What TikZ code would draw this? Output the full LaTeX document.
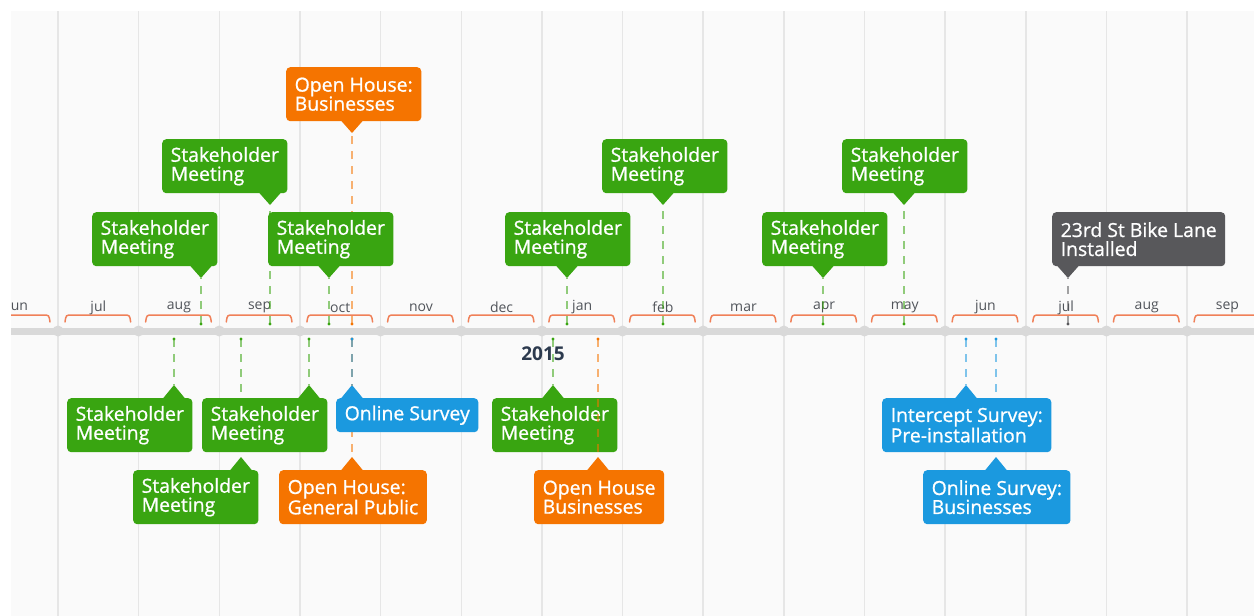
\documentclass[tikz,border=0pt]{standalone}
\usepackage{fontspec}
\setmainfont{Open Sans}
\newfontfamily\boxfont{Open Sans}[FakeBold=0.9]
\definecolor{cgreen}{RGB}{57,165,17}
\definecolor{corange}{RGB}{245,116,0}
\definecolor{cblue}{RGB}{27,153,223}
\definecolor{cgrey}{RGB}{88,88,91}
\definecolor{panel}{RGB}{250,250,250}
\definecolor{gridc}{RGB}{230,230,230}
\definecolor{axisc}{RGB}{217,217,217}
\definecolor{bracketc}{RGB}{240,128,88}
\definecolor{monthc}{RGB}{80,84,90}
\definecolor{yearc}{RGB}{44,58,78}
\tikzset{
  evbox/.style={rounded corners=4pt, text=white, inner xsep=8.5pt, inner ysep=0pt,
    align=left, font=\boxfont\fontsize{19.4}{19}\selectfont},
  evdash/.style={line width=2.8pt, dash pattern=on 8pt off 7pt, opacity=0.55},
  gridline/.style={draw=gridc, line width=1.5pt},
  axisline/.style={draw=axisc, line width=7pt},
  bracketline/.style={draw=bracketc, line width=1.5pt, line cap=round},
  monthlbl/.style={text=monthc, font=\fontsize{14}{14}\selectfont, inner sep=0pt},
  yearlbl/.style={text=yearc, font=\bfseries\fontsize{19}{19}\selectfont, inner sep=0pt}
}
% #1 name, #2 colour, #3 x, #4 tip y, #5 axis y
\newcommand\evline[5]{%
  \coordinate (#1-tip) at (#3,#4);
  \coordinate (#1-ax) at (#3,#5);
  \draw[evdash,draw=#2] (#1-ax) -- (#1-tip);
  \fill[#2] (#1-ax) circle (1.6);
}
% pointer down: #1 name, #2 colour, #3 left, #4 top, #5 tip x, #6 text
\newcommand\evdown[6]{%
  \node[evbox,fill=#2,anchor=north west,minimum height=54pt] (#1) at (#3,#4) {#6};
  \fill[#2] ({#5-11.5},{#4+53}) -- (#1-tip) -- ({#5+11.5},{#4+53}) -- cycle;
}
% pointer up: #1 name, #2 colour, #3 left, #4 top, #5 tip x, #6 height, #7 text
\newcommand\evup[7]{%
  \node[evbox,fill=#2,anchor=north west,minimum height=#6pt] (#1) at (#3,#4) {#7};
  \fill[#2] ({#5-11.5},{#4+1}) -- (#1-tip) -- ({#5+11.5},{#4+1}) -- cycle;
}
\begin{document}
\begin{tikzpicture}[x=1pt,y=-1pt]
\useasboundingbox (0,0) rectangle (1254,616);
\fill[white] (0,0) rectangle (1254,616);
\fill[panel] (11,11) rectangle (1254,616);
\begin{scope}
\clip (11,11) rectangle (1254,616);
% grid
\foreach \k in {0,...,14} {
  \draw[gridline] ({58+80.65*\k},11) -- ({58+80.65*\k},616);
}
% brackets and month labels
\foreach \m [count=\i from -1] in {jun,jul,aug,sep,oct,nov,dec,jan,feb,mar,apr,may,jun,jul,aug,sep} {
  \pgfmathsetmacro\a{58+80.65*\i}
  \pgfmathsetmacro\b{\a+80.65}
  \draw[bracketline] ({\a+7},322) .. controls ({\a+8},315) .. ({\a+14},315) -- ({\b-15},315) .. controls ({\b-9},315) .. ({\b-8},322);
  \node[monthlbl] (m\i) at ({\a+40.3},307.5) {\m};
}
% axis
\draw[axisline] (11,331) -- (1254,331);
\foreach \k in {0,...,14} {
  \fill[axisc] ({58+80.65*\k},331) circle (5.5);
}
\node[yearlbl] (yr) at (543,354) {2015};
% connectors (top)
\evline{e1}{corange}{352}{133}{324}
\evline{e2}{cgreen}{270}{205}{324}
\evline{e3}{cgreen}{201}{278}{324}
\evline{e4}{cgreen}{329}{278}{324}
\evline{e14}{cgreen}{567}{278}{324}
\evline{e15}{cgreen}{663}{205}{324}
\evline{e16}{cgreen}{823}{278}{324}
\evline{e17}{cgreen}{904}{205}{324}
\evline{e18}{cgrey}{1068}{278}{324}
% connectors (bottom)
\evline{e5}{cgreen}{174}{385}{339}
\evline{e6}{cgreen}{309}{385}{339}
\evline{e8}{cgreen}{241}{457}{339}
\evline{e9}{corange}{352}{457}{339}
\evline{e7}{cblue}{352}{385}{339}
\evline{e10}{cgreen}{553}{385}{339}
\evline{e12}{cblue}{966}{385}{339}
\evline{e13}{cblue}{996}{457}{339}
\coordinate (e11-tip) at (598,457);
\coordinate (e11-ax) at (598,339);
% boxes (top)
\evdown{e1}{corange}{286}{67}{352}{Open House:\\Businesses}
\evdown{e2}{cgreen}{162}{139}{270}{Stakeholder\\Meeting}
\evdown{e3}{cgreen}{92}{212}{201}{Stakeholder\\Meeting}
\evdown{e4}{cgreen}{268}{212}{329}{Stakeholder\\Meeting}
\evdown{e14}{cgreen}{505}{212}{567}{Stakeholder\\Meeting}
\evdown{e15}{cgreen}{602}{139}{663}{Stakeholder\\Meeting}
\evdown{e16}{cgreen}{762}{212}{823}{Stakeholder\\Meeting}
\evdown{e17}{cgreen}{842}{139}{904}{Stakeholder\\Meeting}
\evdown{e18}{cgrey}{1052}{212}{1068}{23rd St Bike Lane\\Installed}
% boxes (bottom)
\evup{e5}{cgreen}{67}{398}{174}{54}{Stakeholder\\Meeting}
\evup{e8}{cgreen}{133}{470}{241}{54}{Stakeholder\\Meeting}
\evup{e6}{cgreen}{202}{398}{309}{54}{Stakeholder\\Meeting}
\evup{e9}{corange}{279}{470}{352}{54}{Open House:\\General Public}
\evup{e7}{cblue}{336}{398}{352}{34}{Online Survey}
\evup{e10}{cgreen}{492}{398}{553}{54}{Stakeholder\\Meeting}
\evup{e11}{corange}{534}{470}{598}{54}{Open House\\Businesses}
\evup{e13}{cblue}{923}{470}{996}{54}{Online Survey:\\Businesses}
\evup{e12}{cblue}{882}{398}{966}{54}{Intercept Survey:\\Pre-installation}
% connector drawn over the box above it
\draw[evdash,draw=corange] (e11-ax) -- (e11-tip);
\fill[corange] (e11-ax) circle (1.6);
\end{scope}
\end{tikzpicture}
\end{document}
